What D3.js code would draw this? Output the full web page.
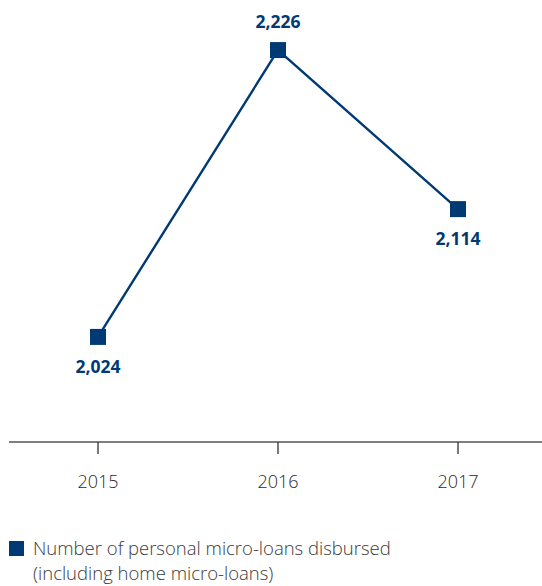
<!DOCTYPE html>
<html>
<head>
<meta charset="utf-8">
<script src="https://cdn.jsdelivr.net/npm/d3@7"></script>
<style>
	body { margin: 0; background: #fff; }
	svg { display: block; }
</style>
</head>
<body>
<svg id="chart" width="542" height="586"></svg>
<script>
const years = ["2015", "2016", "2017"];
const loans = [2024, 2226, 2114];
const labelSide = ["below", "above", "below"];
const legendLines = ["Number of personal micro-loans disbursed", "(including home micro-loans)"];

const navy = "#003a75";
const svg = d3.select("#chart");

// scales
const x = d3.scaleBand().domain(years).range([8, 548]);
const y = d3.scaleLinear().domain([1950, 2250]).range([442, 16]);
const cx = (d) => x(d) + x.bandwidth() / 2;

// x axis
const axis = svg.append("g").attr("transform", "translate(0,442)");
axis.append("line")
	.attr("x1", 9).attr("x2", 542)
	.attr("stroke", "#555").attr("stroke-width", 1.3);
axis.call(d3.axisBottom(x).tickSize(12).tickSizeOuter(0))
	.call((g) => g.select(".domain").remove());
axis.selectAll(".tick line").attr("stroke", "#333").attr("stroke-width", 1.3);
axis.selectAll(".tick text")
	.attr("y", 46).attr("dy", 0)
	.attr("fill", "#2a2a2a")
	.style("font-family", "'Open Sans', sans-serif")
	.style("font-weight", 300)
	.style("font-size", "18px");

const pts = years.map((yr, i) => ({ yr, v: loans[i], side: labelSide[i] }));

// line
svg.append("path")
	.datum(pts)
	.attr("fill", "none")
	.attr("stroke", navy)
	.attr("stroke-width", 2.4)
	.attr("d", d3.line().x((d) => cx(d.yr)).y((d) => y(d.v)));

// markers
const s = 16;
svg.selectAll("rect.pt")
	.data(pts)
	.enter()
	.append("rect")
	.attr("class", "pt")
	.attr("x", (d) => cx(d.yr) - s / 2)
	.attr("y", (d) => y(d.v) - s / 2)
	.attr("width", s).attr("height", s)
	.attr("fill", navy);

// value labels
svg.selectAll("text.val")
	.data(pts)
	.enter()
	.append("text")
	.attr("class", "val")
	.attr("x", (d) => cx(d.yr))
	.attr("y", (d) => y(d.v) + (d.side === "above" ? -22 : 36))
	.attr("text-anchor", "middle")
	.attr("fill", navy)
	.style("font-family", "'Open Sans', sans-serif")
	.style("font-weight", 700)
	.style("font-size", "17.5px")
	.text((d) => d3.format(",")(d.v));

// legend
svg.append("rect")
	.attr("x", 9).attr("y", 541)
	.attr("width", 15).attr("height", 15)
	.attr("fill", navy);
svg.selectAll("text.leg")
	.data(legendLines)
	.enter()
	.append("text")
	.attr("class", "leg")
	.attr("x", 33)
	.attr("y", (d, i) => 555 + i * 25)
	.attr("fill", "#3a3a3a")
	.style("font-family", "'Open Sans', sans-serif")
	.style("font-weight", 300)
	.style("font-size", "18.5px")
	.text((d) => d);
</script>
</body>
</html>
